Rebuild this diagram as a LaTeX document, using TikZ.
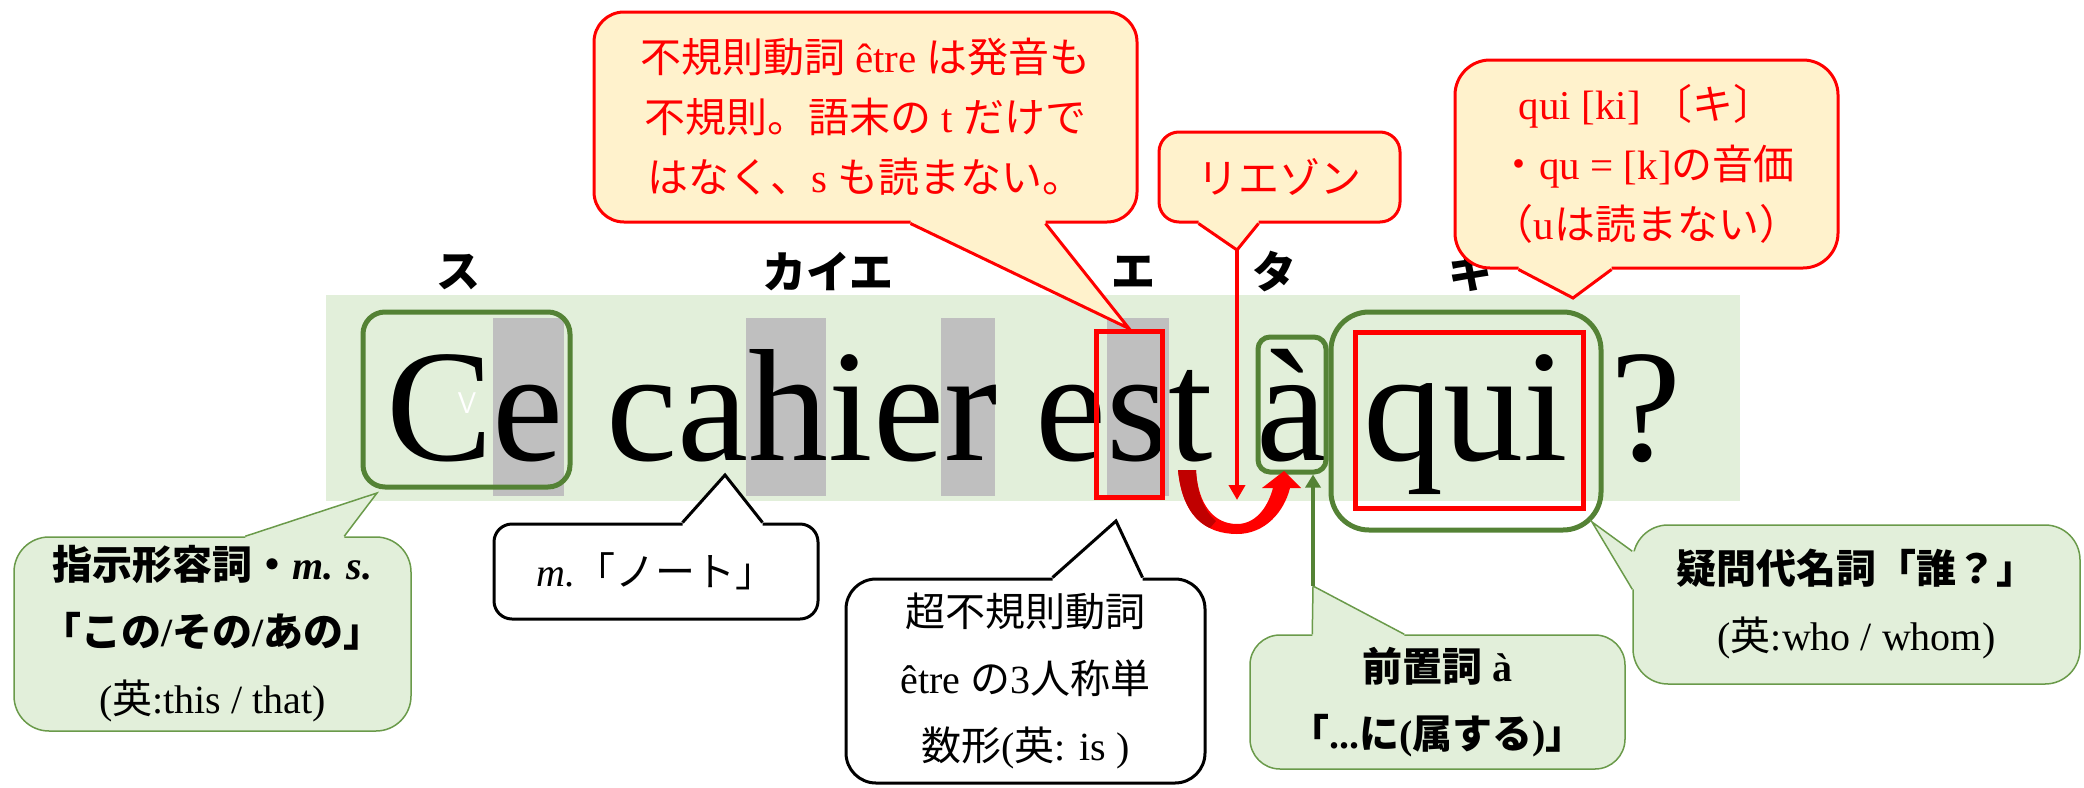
\documentclass[tikz,border=0pt]{standalone}
\usepackage{fontspec}
\setmainfont{Liberation Serif}
\newfontfamily\jp{Noto Sans CJK JP}
\usetikzlibrary{calc}
\usetikzlibrary{arrows.meta}
\definecolor{bandgreen}{HTML}{E2EFDA}
\definecolor{hlgray}{HTML}{BFBFBF}
\definecolor{frgreen}{HTML}{548235}
\definecolor{notegreen}{HTML}{6A9A4A}
\definecolor{notefill}{HTML}{FFF2CC}
\definecolor{darkred}{HTML}{C00000}
\tikzstyle{band} = [rectangle, fill=bandgreen, inner sep=0pt]
\tikzstyle{hl} = [rectangle, fill=hlgray, inner sep=0pt]
\tikzstyle{word} = [inner sep=0pt, anchor=base, font=\fontsize{160}{160}\selectfont]
\tikzstyle{kana} = [inner sep=0pt, font=\jp\bfseries\fontsize{44}{44}\selectfont]
\tikzstyle{gframe} = [rectangle, draw=frgreen, line width=5pt, rounded corners=22pt, inner sep=0pt]
\tikzstyle{rframe} = [rectangle, draw=red, line width=5pt, inner sep=0pt]
\tikzstyle{note} = [rectangle, align=center, inner sep=0pt, rounded corners=30pt]
\tikzstyle{rnote} = [note, fill=notefill, draw=red, line width=3pt, text=red,
font=\fontsize{41}{60}\selectfont]
\tikzstyle{gnote} = [note, fill=bandgreen, draw=notegreen, line width=1.5pt,
font=\fontsize{40}{67}\selectfont]
\tikzstyle{bnote} = [note, fill=white, draw=black, line width=3pt,
font=\fontsize{40}{67}\selectfont]
\tikzstyle{rtail} = [fill=notefill, draw=red, line width=3pt]
\tikzstyle{gtail} = [fill=bandgreen, draw=notegreen, line width=1.5pt]
\tikzstyle{btail} = [fill=white, draw=black, line width=3pt]
\tikzstyle{redline} = [draw=red, line width=4pt]
\tikzstyle{greenline} = [draw=frgreen, line width=4pt]
\tikzset{>={Triangle[width=16pt,length=15pt]}}
\newcommand{\tail}[5][]{ %
  % Pointer #2 -- #3 -- #4 of a callout, #5 points into its box.
  \fill[#1,draw=none] ($(#2)+#5$) -- (#2) -- (#3) -- (#4) -- ($(#4)+#5$) -- cycle ;%
  \draw[#1,fill=none] (#2) -- (#3) -- (#4) ;%
}

\begin{document}
\begin{tikzpicture}[x=1pt, y=-1pt]
  \useasboundingbox (0,0) rectangle (2084,787);
  \node[band, minimum width=1414pt, minimum height=206pt] (band) at (1033,398) {};
  \node[hl, minimum width=71pt, minimum height=178pt] (hle) at (528.5,407) {};
  \node[hl, minimum width=80pt, minimum height=178pt] (hlh) at (786,407) {};
  \node[hl, minimum width=54pt, minimum height=178pt] (hlr) at (968,407) {};
  \node[hl, minimum width=62pt, minimum height=178pt] (hls) at (1138,407) {};

  \node[word] (ce) at (475,460) {Ce};
  \node[word] (cahier) at (802,460) {cahier};
  \node[word] (est) at (1124,460) {est};
  \node[word] (a) at (1292,460) {à};
  \node[word] (qui) at (1466,460) {qui};
  \node[word] (qm) at (1646,460) {?};
  \node[font=\sffamily\fontsize{30}{30}\selectfont, text=white] (vmark) at (467,403) {V};

  \node[kana] (su) at (458,272) {ス};
  \node[kana] (kaie) at (828,272) {カイエ};
  \node[kana] (e) at (1133,272) {エ};
  \node[kana] (ta) at (1274,272) {タ};
  \node[kana] (ki) at (1470,272) {キ};

  \node[gframe, minimum width=207pt, minimum height=175pt] (ceframe) at (466.5,399.5) {};
  \node[rframe, minimum width=66pt, minimum height=166pt] (sframe) at (1129,414) {};
  \node[gframe, rounded corners=12pt, minimum width=68pt, minimum height=135pt] (aframe) at (1292,404.5) {};
  \node[gframe, rounded corners=38pt, minimum width=270pt, minimum height=218pt] (quiframe) at (1466,421) {};
  \node[rframe, minimum width=228pt, minimum height=176pt] (quibox) at (1469,420) {};

  % liaison t -> a
  \fill[red] (1178,470) .. controls (1182,515) and (1205,534) .. (1237,534)
    .. controls (1265,534) and (1284,512) .. (1290,488) -- (1301,488) -- (1284,471)
    -- (1262,488) -- (1273,488) .. controls (1267,510) and (1254,524) .. (1237,524)
    .. controls (1214,524) and (1198,505) .. (1196,470) -- cycle;
  \fill[darkred] (1178,470) .. controls (1181,500) and (1192,520) .. (1210,528)
    -- (1216,521) .. controls (1205,512) and (1197,495) .. (1196,470) -- cycle;

  \node[rnote, minimum width=543pt, minimum height=210pt] (etre) at (865.5,117)
    {{\jp 不規則動詞} être {\jp は発音も}\\{\jp 不規則。語末の} t {\jp だけで}\\{\jp はなく、}s {\jp も読まない。}};
  \coordinate (etreL) at ($(etre.south west)+(318,0)$);
  \coordinate (etreR) at ($(etre.south west)+(453,0)$);
  \tail[rtail] {etreL} {sframe.north} {etreR} {(0,-8)};

  \node[rnote, rounded corners=20pt, minimum width=241pt, minimum height=90pt] (liaison) at (1279.5,177) {{\jp リエゾン}};
  \coordinate (lzL) at ($(liaison.south west)+(41,0)$);
  \coordinate (lzR) at ($(liaison.south west)+(101,0)$);
  \coordinate (lztip) at (1237,250);
  \coordinate (lzend) at (1237,500);
  \tail[rtail] {lzL} {lztip} {lzR} {(0,-8)};
  \draw[redline, ->] (lztip) -- (lzend);

  \node[rnote, rounded corners=35pt, minimum width=383pt, minimum height=208pt] (quinote) at (1646.5,164)
    {qui [ki] {\jp 〔キ〕}\\{\jp ・}qu = [k]{\jp の音価}\\{\jp （}u{\jp は読まない）}};
  \coordinate (quiL) at ($(quinote.south west)+(65,0)$);
  \coordinate (quiR) at ($(quinote.south west)+(158,0)$);
  \coordinate (quitip) at (1573,298);
  \tail[rtail] {quiL} {quitip} {quiR} {(0,-8)};

  \node[gnote, rounded corners=35pt, minimum width=397pt, minimum height=194pt] (demo) at (212.5,634)
    {\textbf{{\jp 指示形容詞・}\textit{m. s.}}\\\textbf{{\jp 「この}/{\jp その}/{\jp あの」}}\\({\jp 英}:this / that)};
  \coordinate (demoL) at ($(demo.north west)+(232,0)$);
  \coordinate (demoR) at ($(demo.north west)+(331,0)$);
  \coordinate (demotip) at (377,493);
  \tail[gtail] {demoL} {demotip} {demoR} {(0,8)};

  \node[bnote, rounded corners=18pt, minimum width=324pt, minimum height=95pt] (note) at (656,571.5)
    {\textit{m.}{\jp 「ノート」}};
  \coordinate (noteL) at ($(note.north west)+(190,0)$);
  \coordinate (noteR) at ($(note.north west)+(270,0)$);
  \coordinate (notetip) at (725,475);
  \tail[btail] {noteL} {notetip} {noteR} {(0,8)};

  \node[bnote, minimum width=359pt, minimum height=204pt] (etre3) at (1025.5,681)
    {{\jp 超不規則動詞}\\être {\jp の}3{\jp 人称単}\\{\jp 数形}({\jp 英}: is )};
  \coordinate (etre3L) at ($(etre3.north west)+(208,0)$);
  \coordinate (etre3R) at ($(etre3.north west)+(298,0)$);
  \coordinate (etre3tip) at (1116,521);
  \tail[btail] {etre3L} {etre3tip} {etre3R} {(0,8)};

  \node[gnote, minimum width=375pt, minimum height=134pt] (prep) at (1437.5,702)
    {\textbf{{\jp 前置詞} à}\\\textbf{{\jp 「}...{\jp に}({\jp 属する}){\jp 」}}};
  \coordinate (prepL) at ($(prep.north west)+(63,0)$);
  \coordinate (prepR) at ($(prep.north west)+(155,0)$);
  \coordinate (preptip) at (1313,586);
  \tail[gtail] {prepL} {preptip} {prepR} {(0,8)};
  \draw[greenline, -{Triangle[width=15pt,length=13pt]}] (preptip) -- (preptip |- aframe.south);

  \node[gnote, rounded corners=35pt, minimum width=447pt, minimum height=159pt] (interrog) at (1856.5,604.5)
    {\textbf{{\jp 疑問代名詞「誰？」}}\\({\jp 英}:who / whom)};
  \coordinate (interL) at ($(interrog.north west)+(0,27)$);
  \coordinate (interR) at ($(interrog.north west)+(0,65)$);
  \coordinate (intertip) at (1592,522);
  \tail[gtail] {interL} {intertip} {interR} {(8,0)};
\end{tikzpicture}
\end{document}
